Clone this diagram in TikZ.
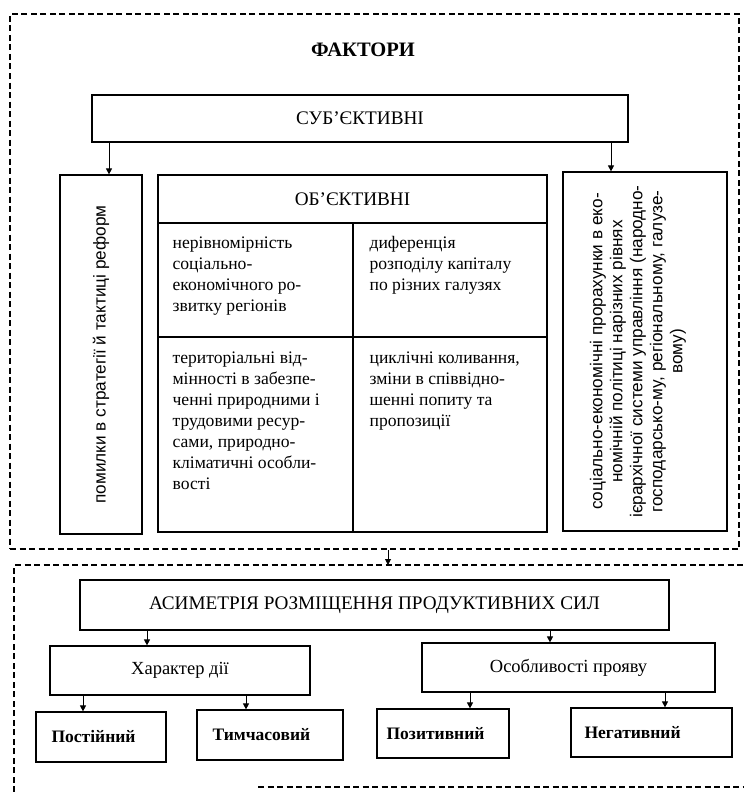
\documentclass[tikz,border=0pt]{standalone}
\usepackage{fontspec}
\setmainfont{Liberation Serif}
\setsansfont{Liberation Sans}
\usepackage{tikz}
\usetikzlibrary{arrows.meta, positioning, calc}
\tikzset{
  >={Triangle[length=6pt,width=6pt]},
  dashframe/.style={draw, line width=1.5pt, dash pattern=on 6pt off 3.5pt},
  blk/.style={draw, line width=1.2pt, inner sep=0pt},
  hdr/.style={font=\fontsize{19.2}{22}\selectfont},
  lab/.style={font=\fontsize{18.5}{22}\selectfont},
  bold/.style={font=\bfseries\fontsize{17.5}{20}\selectfont, inner sep=0pt},
  cell/.style={font=\fontsize{17.6}{21}\selectfont, align=left, inner sep=0pt},
  vtxt/.style={rotate=90, font=\sffamily\fontsize{17.2}{20}\selectfont, align=center, inner sep=0pt},
  arr/.style={->, line width=0.9pt}
}
\begin{document}
\begin{tikzpicture}[x=1pt, y=1pt]
  \useasboundingbox (0,0) rectangle (744,-792);
  % factors
  \node[dashframe, minimum width=729pt, minimum height=535pt] (fac) at (374.5,-281.5) {};
  \node[font=\bfseries\fontsize{20.5}{22}\selectfont] (fakt) at (363,-50) {ФАКТОРИ};
  \node[blk, hdr, minimum width=536pt, minimum height=47pt] (sub) at (360,-118.5) {СУБ'ЄКТИВНІ};
  \node[blk, minimum width=82pt, minimum height=359pt] (pom) at (101,-354.5) {};
  \node[vtxt] at (pom.center) {помилки в стратегії й тактиці реформ};
  \node[blk, minimum width=164pt, minimum height=359pt] (prav) at (645,-351.5) {};
  \node[vtxt] at ([xshift=-7pt]prav.center) {соціально-економічні прорахунки в еко-\\номічній політиці нарізних рівнях\\ієрархічної системи управління (народно-\\господарсько-му, регіональному, галузе-\\вому)};
  % objective table
  \node[blk, hdr, minimum width=389pt, minimum height=48pt] (obh) at (352.5,-199) {ОБ'ЄКТИВНІ};
  \node[blk, minimum width=195pt, minimum height=114pt] (c11) at (255.5,-280) {};
  \node[blk, minimum width=194pt, minimum height=114pt] (c12) at (450,-280) {};
  \node[blk, minimum width=195pt, minimum height=195pt] (c21) at (255.5,-434.5) {};
  \node[blk, minimum width=194pt, minimum height=195pt] (c22) at (450,-434.5) {};
  \node[cell, anchor=north west] at ([shift={(15pt,-14pt)}]c11.north west) {нерівномірність\\соціально-\\економічного ро-\\звитку регіонів};
  \node[cell, anchor=north west] at ([shift={(17pt,-14pt)}]c12.north west) {диференція\\розподілу капіталу\\по різних галузях};
  \node[cell, anchor=north west] at ([shift={(15pt,-15pt)}]c21.north west) {територіальні від-\\мінності в забезпе-\\ченні природними і\\трудовими ресур-\\сами, природно-\\кліматичні особли-\\вості};
  \node[cell, anchor=north west] at ([shift={(17pt,-15pt)}]c22.north west) {циклічні коливання,\\зміни в співвідно-\\шенні попиту та\\пропозиції};
  \draw[arr] ([xshift=8pt]pom.north |- sub.south) -- ([xshift=8pt]pom.north);
  \draw[arr] ([xshift=-34pt]prav.north |- sub.south) -- ([xshift=-34pt]prav.north);
  % asymmetry
  \coordinate (top2) at (388,-565);
  \draw[arr] (fac.south -| top2) -- (top2);
  \draw[dashframe] (14,-792) -- (14,-565) -- (744,-565);
  \draw[dashframe] (258,-787) -- (744,-787);
  \node[blk, hdr, minimum width=589pt, minimum height=50pt] (asym) at (374.5,-605) {АСИМЕТРІЯ РОЗМІЩЕННЯ ПРОДУКТИВНИХ СИЛ};
  \node[blk, lab, minimum width=260pt, minimum height=49pt] (khar) at (180,-670.5) {Характер дії};
  \node[blk, lab, minimum width=293pt, minimum height=49pt] (osob) at (568.5,-667.5) {Особливості прояву};
  \node[blk, minimum width=130pt, minimum height=50pt] (post) at (101,-737) {};
  \node[blk, minimum width=146pt, minimum height=50pt] (tym) at (270,-735) {};
  \node[blk, minimum width=132pt, minimum height=49pt] (poz) at (443,-733.5) {};
  \node[blk, minimum width=161pt, minimum height=49pt] (neg) at (651.5,-732.5) {};
  \foreach \n/\t/\d in {post/Постійний/16, tym/Тимчасовий/16, poz/Позитивний/10, neg/Негативний/14}
    \node[bold, anchor=west] at ([xshift=\d pt]\n.west) {\t};
  \draw[arr] ([xshift=-33pt]khar.north |- asym.south) -- ([xshift=-33pt]khar.north);
  \draw[arr] ([xshift=-18.5pt]osob.north |- asym.south) -- ([xshift=-18.5pt]osob.north);
  \foreach \a/\b/\s in {khar/post/-18, khar/tym/-24, osob/poz/27, osob/neg/13.5}
    \draw[arr] ([xshift=\s pt]\b.north |- \a.south) -- ([xshift=\s pt]\b.north);
\end{tikzpicture}
\end{document}
